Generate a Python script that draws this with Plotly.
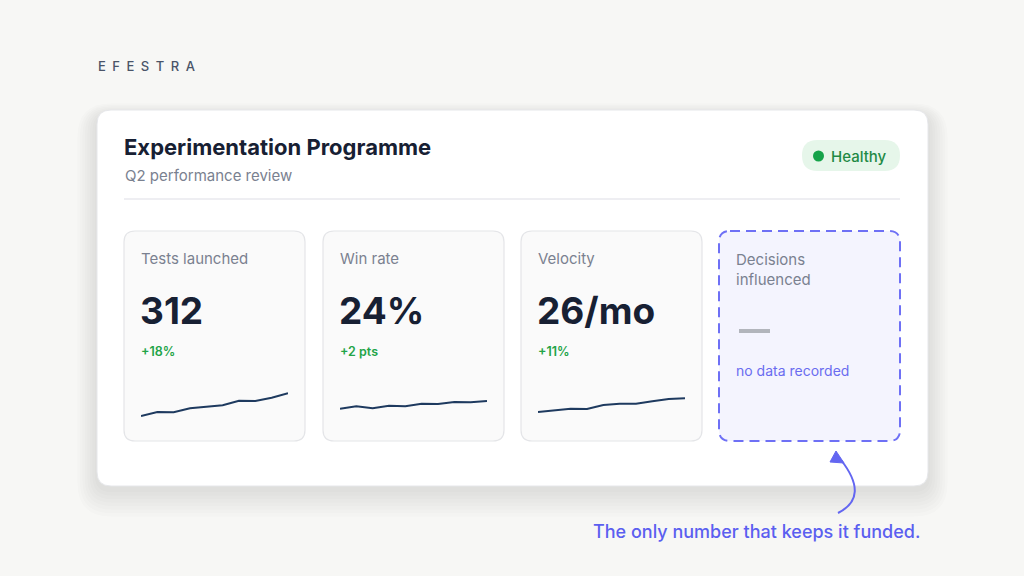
import plotly.graph_objects as go

# card contents
labels = ["Tests launched", "Win rate", "Velocity"]
values = ["312", "24%", "26/mo"]
deltas = ["+18%", "+2 pts", "+11%"]

# sparkline values (same scale for every card)
spark_tests = [4, 8, 7.7, 11.7, 13.3, 14.7, 19.3, 19, 22.3, 26.7]
spark_winrate = [11.3, 13.7, 11.7, 14.3, 13.7, 16.3, 16, 18, 17.7, 19]
spark_velocity = [8, 9.7, 11.3, 11, 15, 16.3, 16.3, 18.7, 21, 21.7]
sparks = [spark_tests, spark_winrate, spark_velocity]

W, H = 1024, 576
FONT = "Inter"
BG = "#f7f7f5"
INK = "#172033"
MUTED = "#7a8190"
GREEN = "#22a447"


def rrect(x0, y0, x1, y1, r):
    return (f"M {x0+r} {y0} L {x1-r} {y0} Q {x1} {y0} {x1} {y0+r} "
            f"L {x1} {y1-r} Q {x1} {y1} {x1-r} {y1} L {x0+r} {y1} "
            f"Q {x0} {y1} {x0} {y1-r} L {x0} {y0+r} Q {x0} {y0} {x0+r} {y0} Z")


fig = go.Figure()
shapes = []
ann = []

# main card shadow + card
for i in range(8):
    g = 2 + i * 2.5
    shapes.append(dict(type="path", xref="x", yref="y",
                       path=rrect(97 - g, 110 - g + 6 + i, 928 + g, 486 + g + 4 + i, 14 + g),
                       fillcolor="rgba(40,45,60,0.016)", line=dict(width=0), layer="below"))
shapes.append(dict(type="path", xref="x", yref="y", path=rrect(97, 110, 928, 486, 14),
                   fillcolor="#ffffff", line=dict(color="#e6e7ea", width=1), layer="below"))

# divider
shapes.append(dict(type="line", xref="x", yref="y", x0=124, x1=900, y0=199, y1=199,
                   line=dict(color="#e8e9ee", width=1.5)))

# healthy badge
shapes.append(dict(type="path", xref="x", yref="y", path=rrect(802, 140, 900, 171, 15.5),
                   fillcolor="#e6f6ea", line=dict(width=0)))
shapes.append(dict(type="circle", xref="x", yref="y", x0=813, x1=824, y0=150.5, y1=161.5,
                   fillcolor="#16a34a", line=dict(width=0)))
ann.append(dict(x=829, y=156, text="Healthy", xanchor="left", yanchor="middle",
                font=dict(family=FONT, size=15, color="#1f8a45", weight=500)))

# header
ann.append(dict(x=96, y=66, text="\u2002".join("EFESTRA"), xanchor="left", yanchor="middle",
                font=dict(family=FONT, size=13, color="#4a5468", weight=500)))
ann.append(dict(x=122, y=147, text="Experimentation Programme", xanchor="left", yanchor="middle",
                font=dict(family=FONT, size=22, color=INK, weight=700)))
ann.append(dict(x=123, y=175, text="Q2 performance review", xanchor="left", yanchor="middle",
                font=dict(family=FONT, size=15, color=MUTED)))

card_x = [124, 323, 521, 719]
cw = 181
for i, cx in enumerate(card_x):
    if i < 3:
        shapes.append(dict(type="path", xref="x", yref="y", path=rrect(cx, 231, cx + cw, 441, 11),
                           fillcolor="#fafafa", line=dict(color="#e4e5e8", width=1.2), layer="below"))
        ann.append(dict(x=cx + 15, y=258, text=labels[i], xanchor="left", yanchor="middle",
                        font=dict(family=FONT, size=15, color=MUTED)))
        ann.append(dict(x=cx + 14, y=310, text=values[i], xanchor="left", yanchor="middle",
                        font=dict(family=FONT, size=37, color=INK, weight=700)))
        ann.append(dict(x=cx + 15, y=351, text=deltas[i], xanchor="left", yanchor="middle",
                        font=dict(family=FONT, size=12.5, color=GREEN, weight=600)))
    else:
        shapes.append(dict(type="path", xref="x", yref="y", path=rrect(cx, 231, cx + cw, 441, 11),
                           fillcolor="#f4f4fe", line=dict(color="#6e70f5", width=2, dash="10px,6px"),
                           layer="below"))
        ann.append(dict(x=cx + 15, y=269, text="Decisions<br>influenced", xanchor="left",
                        yanchor="middle", align="left",
                        font=dict(family=FONT, size=15, color=MUTED)))
        shapes.append(dict(type="line", xref="x", yref="y", x0=739, x1=770, y0=331, y1=331,
                           line=dict(color="#b2b5bc", width=4)))
        ann.append(dict(x=cx + 15, y=370, text="no data recorded", xanchor="left", yanchor="middle",
                        font=dict(family=FONT, size=14, color="#6a6cf0")))

# arrow + caption
shapes.append(dict(type="path", xref="x", yref="y", path="M 838 513 Q 870 497 841 460",
                   line=dict(color="#6366f1", width=2)))
shapes.append(dict(type="path", xref="x", yref="y", path="M 836 451 L 844 463 L 830 462 Z",
                   fillcolor="#6366f1", line=dict(color="#6366f1", width=1)))
ann.append(dict(x=922, y=531, text="The only number that keeps it funded.", xanchor="right",
                yanchor="middle", font=dict(family=FONT, size=18, color="#5b5ff0", weight=500)))

# sparklines, one small axis pair per card
layout_axes = {}
for i, vals in enumerate(sparks):
    n = i + 2
    x0 = card_x[i] + 17
    fig.add_trace(go.Scatter(x=list(range(len(vals))), y=vals, mode="lines",
                             line=dict(color="#1e3a5f", width=2), xaxis=f"x{n}", yaxis=f"y{n}",
                             hoverinfo="skip", showlegend=False))
    layout_axes[f"xaxis{n}"] = dict(domain=[x0 / W, (x0 + 147) / W], range=[0, len(vals) - 1],
                                    visible=False, anchor=f"y{n}")
    layout_axes[f"yaxis{n}"] = dict(domain=[1 - 420 / H, 1 - 388 / H], range=[0, 32],
                                    visible=False, anchor=f"x{n}")

fig.update_layout(
    width=W, height=H,
    margin=dict(l=0, r=0, t=0, b=0),
    paper_bgcolor=BG, plot_bgcolor="rgba(0,0,0,0)",
    xaxis=dict(range=[0, W], visible=False, domain=[0, 1]),
    yaxis=dict(range=[H, 0], visible=False, domain=[0, 1]),
    shapes=shapes,
    annotations=[dict(a, xref="x", yref="y", showarrow=False) for a in ann],
    showlegend=False,
    **layout_axes,
)

fig.write_html("out.html", config={"displayModeBar": False},
               post_script="document.body.style.margin='0';document.body.style.background='#f7f7f5';")
